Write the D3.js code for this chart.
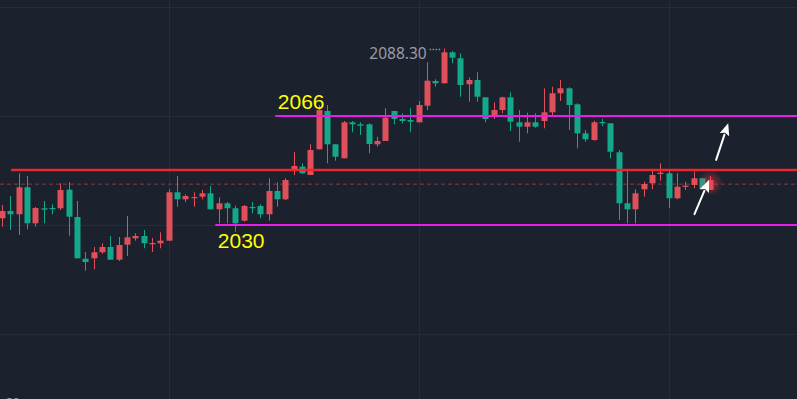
<!DOCTYPE html>
<html>
<head>
<meta charset="utf-8">
<script src="https://cdn.jsdelivr.net/npm/d3@7"></script>
<style>
  html, body { margin: 0; padding: 0; background: #1b212d; overflow: hidden; }
  #chart { width: 797px; height: 399px; }
</style>
</head>
<body>
<div id="chart"></div>
<script>
// OHLC values, one entry per candle
var openPrices = [
  2032.22, 2034.63, 2033.54, 2042.45, 2030.56, 2035.52, 2035.62, 2035.52, 2041.66, 2032.64,
  2018.87, 2019.00, 2020.99, 2022.74, 2018.54, 2023.50, 2025.61, 2026.37, 2023.63, 2023.96,
  2024.82, 2040.80, 2038.49, 2039.02, 2039.35, 2040.47, 2035.19, 2037.17, 2035.52, 2031.42,
  2035.95, 2036.28, 2033.54, 2041.23, 2038.49, 2047.84, 2049.26, 2046.52, 2055.00, 2067.65,
  2056.65, 2052.03, 2063.92, 2063.26, 2063.26, 2056.65, 2057.74, 2067.65, 2065.01, 2064.68,
  2063.92, 2069.40, 2077.56, 2076.80, 2087.04, 2085.06, 2076.47, 2077.89, 2072.18, 2065.77,
  2067.98, 2072.18, 2063.92, 2062.47, 2063.92, 2064.35, 2067.22, 2073.50, 2075.15, 2069.86,
  2060.29, 2058.07, 2064.02, 2063.59, 2054.01, 2037.17, 2035.19, 2041.79, 2043.77, 2046.85,
  2047.08, 2038.82, 2042.65, 2043.21, 2045.43, 2041.56
];
var highPrices = [
  2036.61, 2039.58, 2047.08, 2046.18, 2035.95, 2037.93, 2036.84, 2043.77, 2044.20, 2037.93,
  2021.09, 2022.74, 2023.96, 2026.37, 2026.04, 2032.97, 2027.26, 2028.35, 2025.71, 2027.59,
  2041.79, 2046.18, 2040.14, 2040.80, 2041.56, 2042.88, 2039.15, 2037.60, 2036.38, 2036.61,
  2037.60, 2036.84, 2045.43, 2044.10, 2045.43, 2054.11, 2050.38, 2056.65, 2069.63, 2069.63,
  2056.65, 2064.35, 2064.35, 2063.92, 2063.59, 2059.16, 2068.54, 2067.65, 2066.89, 2068.54,
  2070.95, 2083.73, 2078.12, 2088.30, 2087.47, 2086.71, 2078.78, 2080.43, 2072.18, 2070.52,
  2072.37, 2073.83, 2067.98, 2067.09, 2066.89, 2075.15, 2075.68, 2077.89, 2075.48, 2070.19,
  2061.38, 2064.45, 2065.01, 2063.59, 2054.77, 2048.17, 2041.79, 2044.30, 2047.94, 2050.38,
  2047.94, 2047.08, 2044.30, 2047.61, 2045.43, 2046.18
];
var lowPrices = [
  2029.44, 2028.35, 2026.70, 2028.58, 2029.44, 2030.56, 2033.54, 2034.96, 2026.47, 2019.00,
  2014.91, 2015.37, 2020.52, 2018.54, 2018.11, 2019.76, 2024.82, 2022.31, 2021.09, 2022.31,
  2024.82, 2036.05, 2037.60, 2036.05, 2038.49, 2035.19, 2030.56, 2030.56, 2027.79, 2031.09,
  2033.87, 2032.22, 2031.42, 2036.05, 2038.26, 2046.52, 2046.85, 2046.52, 2055.00, 2050.38,
  2051.24, 2052.03, 2060.62, 2059.73, 2053.68, 2055.86, 2057.74, 2063.26, 2063.59, 2060.62,
  2063.92, 2067.98, 2075.68, 2076.80, 2083.40, 2072.37, 2070.72, 2070.72, 2063.92, 2065.01,
  2066.89, 2061.05, 2057.51, 2060.29, 2062.14, 2061.94, 2066.33, 2070.95, 2061.38, 2055.33,
  2057.51, 2057.84, 2062.70, 2052.03, 2031.65, 2030.56, 2030.56, 2039.35, 2041.79, 2044.63,
  2035.52, 2038.49, 2041.56, 2042.12, 2041.56, 2041.56
];
var closePrices = [
  2034.63, 2033.54, 2042.45, 2030.56, 2035.62, 2035.06, 2035.29, 2041.56, 2032.74, 2019.00,
  2017.78, 2020.99, 2022.74, 2018.54, 2023.40, 2025.94, 2026.37, 2023.96, 2024.06, 2024.82,
  2040.80, 2038.49, 2039.58, 2039.25, 2040.47, 2035.19, 2037.17, 2035.52, 2030.56, 2036.28,
  2035.62, 2033.54, 2041.23, 2038.49, 2044.86, 2049.49, 2047.08, 2054.77, 2067.98, 2056.65,
  2052.56, 2063.92, 2063.26, 2062.80, 2056.75, 2057.74, 2065.44, 2065.01, 2064.35, 2064.12,
  2069.63, 2077.66, 2076.80, 2087.04, 2085.25, 2076.24, 2077.89, 2072.37, 2065.01, 2067.98,
  2072.18, 2064.12, 2062.47, 2063.92, 2062.47, 2067.22, 2073.50, 2075.15, 2069.63, 2060.29,
  2058.31, 2063.92, 2063.59, 2054.21, 2037.17, 2035.19, 2040.47, 2043.54, 2046.52, 2047.28,
  2038.82, 2042.65, 2042.98, 2045.43, 2041.79, 2044.86
];

// drawn levels and annotations
var resistanceLevel = 2066;
var supportLevel = 2030;
var midLevel = 2048.2;
var currentPrice = 2043.5;
var highLabel = "2088.30";
var highIndex = 53;
var gridPrices = [2102, 2066, 2030, 1994];
var gridIndexes = [20, 50, 80];
// arrows: [fromIndex, fromPrice, toIndex, toPrice]
var arrowList = [
  [85.7, 2051.5, 87.15, 2063.6],
  [83.1, 2033.6, 84.85, 2044.9]
];

var chartSize = { width: 797, height: 399 };
var upColor = "#e0505a";
var downColor = "#13a88a";
var bodyWidth = 6;

var xScale = d3.scaleLinear().domain([0, 85]).range([2, 710.3]);
var yScale = d3.scaleLinear().domain([resistanceLevel, supportLevel]).range([116, 225]);

var svg = d3.select("#chart").append("svg")
    .attr("width", chartSize.width)
    .attr("height", chartSize.height)
    .style("display", "block");

svg.append("rect")
    .attr("width", chartSize.width)
    .attr("height", chartSize.height)
    .attr("fill", "#1b212d");

var defs = svg.append("defs");
var glow = defs.append("radialGradient").attr("id", "glow");
glow.append("stop").attr("offset", "0%").attr("stop-color", "#ff3b4a").attr("stop-opacity", 0.55);
glow.append("stop").attr("offset", "100%").attr("stop-color", "#ff3b4a").attr("stop-opacity", 0);

// grid
svg.selectAll(".hgrid").data(gridPrices).enter().append("line")
    .attr("x1", 0).attr("x2", chartSize.width)
    .attr("y1", function(d) { return Math.round(yScale(d)) + 0.5; })
    .attr("y2", function(d) { return Math.round(yScale(d)) + 0.5; })
    .attr("stroke", "#262c39").attr("stroke-width", 1);
svg.selectAll(".vgrid").data(gridIndexes).enter().append("line")
    .attr("y1", 0).attr("y2", chartSize.height)
    .attr("x1", function(d) { return Math.round(xScale(d)) + 0.5; })
    .attr("x2", function(d) { return Math.round(xScale(d)) + 0.5; })
    .attr("stroke", "#262c39").attr("stroke-width", 1);

// current price dashed line
svg.append("line")
    .attr("x1", 0).attr("x2", chartSize.width)
    .attr("y1", yScale(currentPrice)).attr("y2", yScale(currentPrice))
    .attr("stroke", "#8c3a42").attr("stroke-width", 1)
    .attr("stroke-dasharray", "4,3");

// candles
var candles = svg.append("g").selectAll("g").data(openPrices).enter().append("g");
candles.append("line")
    .attr("x1", function(d, i) { return Math.round(xScale(i)) + 0.5; })
    .attr("x2", function(d, i) { return Math.round(xScale(i)) + 0.5; })
    .attr("y1", function(d, i) { return yScale(highPrices[i]); })
    .attr("y2", function(d, i) { return yScale(lowPrices[i]); })
    .attr("stroke", function(d, i) { return closePrices[i] >= d ? upColor : downColor; })
    .attr("stroke-width", 1);
candles.append("rect")
    .attr("x", function(d, i) { return Math.round(xScale(i)) + 0.5 - bodyWidth / 2; })
    .attr("width", bodyWidth)
    .attr("y", function(d, i) { return yScale(Math.max(d, closePrices[i])); })
    .attr("height", function(d, i) {
        return Math.max(1.2, Math.abs(yScale(d) - yScale(closePrices[i])));
    })
    .attr("fill", function(d, i) { return closePrices[i] >= d ? upColor : downColor; });

// glow on last candle
var lastIdx = openPrices.length - 1;
svg.append("circle")
    .attr("cx", xScale(lastIdx)).attr("cy", yScale(closePrices[lastIdx]) + 3)
    .attr("r", 13).attr("fill", "url(#glow)");

// horizontal levels
svg.append("line")
    .attr("x1", xScale(1.1)).attr("x2", chartSize.width)
    .attr("y1", yScale(midLevel)).attr("y2", yScale(midLevel))
    .attr("stroke", "#ee2630").attr("stroke-width", 2.5);
svg.append("line")
    .attr("x1", xScale(32.8)).attr("x2", chartSize.width)
    .attr("y1", yScale(resistanceLevel)).attr("y2", yScale(resistanceLevel))
    .attr("stroke", "#e81ee8").attr("stroke-width", 2);
svg.append("line")
    .attr("x1", xScale(25.6)).attr("x2", chartSize.width)
    .attr("y1", yScale(supportLevel)).attr("y2", yScale(supportLevel))
    .attr("stroke", "#e81ee8").attr("stroke-width", 2);

svg.append("text")
    .attr("x", xScale(33.1)).attr("y", yScale(resistanceLevel) - 7.5)
    .attr("fill", "#ffff00")
    .style("font-family", "'Liberation Sans', Arial, sans-serif")
    .style("font-size", "21px")
    .text(resistanceLevel);
svg.append("text")
    .attr("x", xScale(25.9)).attr("y", yScale(supportLevel) + 23)
    .attr("fill", "#ffff00")
    .style("font-family", "'Liberation Sans', Arial, sans-serif")
    .style("font-size", "21px")
    .text(supportLevel);

// high marker
svg.append("text")
    .attr("x", xScale(highIndex) - 17).attr("y", yScale(highPrices[highIndex]) + 10.5)
    .attr("text-anchor", "end")
    .attr("fill", "#989ca5")
    .style("font-family", "'Noto Sans', 'Open Sans', sans-serif")
    .style("font-size", "15.5px")
    .text(highLabel);
svg.append("line")
    .attr("x1", xScale(highIndex) - 14).attr("x2", xScale(highIndex) - 3)
    .attr("y1", yScale(highPrices[highIndex]) + 1).attr("y2", yScale(highPrices[highIndex]) + 1)
    .attr("stroke", "#8e929b").attr("stroke-width", 1.5)
    .attr("stroke-dasharray", "1.5,1.5");

// arrows
arrowList.forEach(function(a) {
    var x1 = xScale(a[0]), y1 = yScale(a[1]), x2 = xScale(a[2]), y2 = yScale(a[3]);
    var ang = Math.atan2(y2 - y1, x2 - x1);
    var headLen = 12, headW = 5;
    var bx = x2 - headLen * Math.cos(ang), by = y2 - headLen * Math.sin(ang);
    var nx = -Math.sin(ang), ny = Math.cos(ang);
    svg.append("line")
        .attr("x1", x1).attr("y1", y1).attr("x2", bx).attr("y2", by)
        .attr("stroke", "#ffffff").attr("stroke-width", 2).attr("stroke-linecap", "round");
    svg.append("path")
        .attr("d", "M" + x2 + "," + y2 +
            "L" + (bx + nx * headW) + "," + (by + ny * headW) +
            "L" + (bx + 2 * Math.cos(ang)) + "," + (by + 2 * Math.sin(ang)) +
            "L" + (bx - nx * headW) + "," + (by - ny * headW) + "Z")
        .attr("fill", "#ffffff");
});

// cut-off axis label at the bottom edge (also cut off in the reference)
svg.append("text")
    .attr("x", 6).attr("y", 407)
    .attr("fill", "#9ba0a9")
    .style("font-family", "'Noto Sans', sans-serif")
    .style("font-size", "12px")
    .text("20");
</script>
</body>
</html>
